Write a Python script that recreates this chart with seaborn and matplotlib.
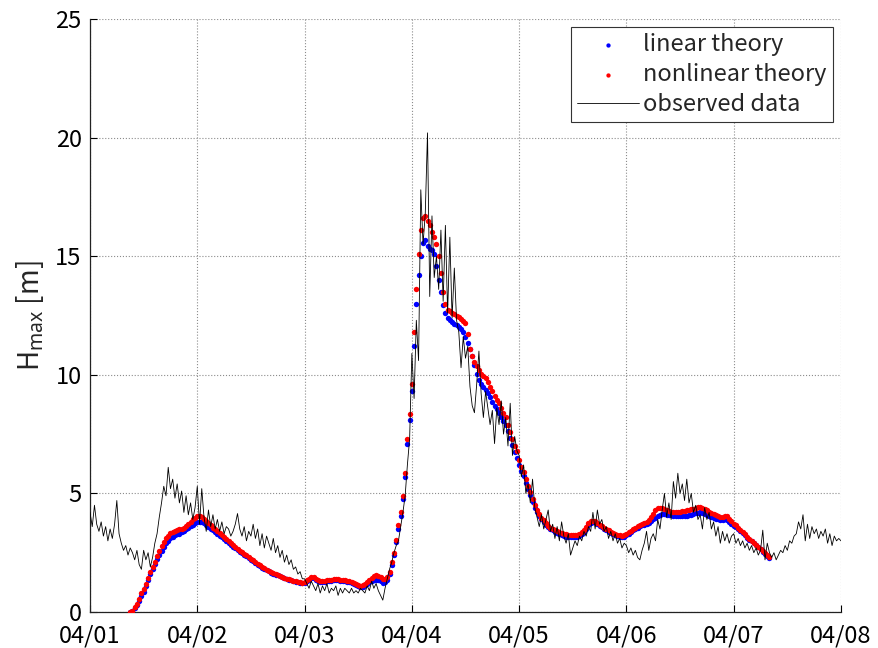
import numpy as np
import matplotlib
matplotlib.use("Agg")
import matplotlib.pyplot as plt
import seaborn as sns

# ---------------- data ----------------
day_labels = ["04/01", "04/02", "04/03", "04/04", "04/05", "04/06", "04/07", "04/08"]

# observed Hmax [m], every 30 min from 04/01 00:00
obs_d0 = [4.2,3.6,4.5,3.7,3.4,3.8,3.2,3.6,3.0,3.5, 3.1,3.7,4.7,3.3,2.9,2.6,2.8,2.4,2.7,2.5,
          2.2,2.6,2.0,1.8,2.6,2.2,2.5,1.9,2.3,2.9, 3.3,4.0,4.6,5.3,4.9,6.1,5.2,5.6,4.8,5.4,
          4.6,5.1,4.2,4.9,4.1,4.6,3.9,4.4]
obs_d1 = [5.3,3.7,5.2,4.0,3.4,4.3,3.6,4.1,3.5,3.9, 3.4,3.8,3.3,3.6,3.5,3.2,3.4,3.7,4.15,3.5,
          3.2,3.6,3.0,3.4,3.2,3.7,3.1,3.5,2.8,3.3, 2.7,3.2,2.9,2.6,3.1,2.5,2.8,2.3,2.6,2.1,
          2.4,2.0,2.2,1.8,1.9,1.6,1.7,1.4]
obs_d2 = [1.4,1.2,1.0,1.3,1.1,0.9,1.2,0.8,1.1,0.9, 1.2,0.8,1.0,0.9,1.1,0.7,1.0,0.8,1.0,0.9,
          0.8,1.0,0.8,0.9,0.8,1.0,0.9,0.8,1.1,0.9, 1.3,1.0,1.2,0.9,0.7,0.5,1.0,1.4,1.8,2.1,
          2.5,2.8,3.0,3.6,4.2,4.9,6.2,7.3]
obs_d3 = [10.9,9.0,12.3,10.6,17.8,15.5,16.8,20.2,13.3,16.7, 14.1,15.0,13.6,16.1,13.1,16.3,12.6,15.8,12.4,14.5,
          12.3,11.8,10.3,11.6,10.7,11.2,9.5,8.7,8.4,9.6, 11.0,9.2,8.2,9.3,8.6,7.9,8.5,7.1,8.6,7.9,
          8.9,7.5,8.2,7.0,8.8,6.6,7.4,6.8]
obs_d4 = [6.6,5.7,6.2,5.0,5.4,4.6,5.6,4.4,4.0,3.6, 4.1,3.5,3.9,4.3,3.4,3.7,3.1,3.6,3.0,3.8,
          3.2,2.9,3.3,2.4,2.7,3.0,2.8,3.2,3.0,3.4, 3.2,3.6,3.4,4.2,3.5,4.3,3.7,3.9,3.4,3.6,
          3.1,3.4,3.0,3.3,2.9,3.1,2.7,2.9]
obs_d5 = [2.8,2.5,2.7,2.4,2.6,2.3,2.2,2.6,2.9,3.4, 2.6,3.1,3.3,3.0,3.9,3.5,4.3,5.0,4.0,4.6,
          3.9,5.5,4.8,5.85,5.0,5.4,4.7,5.6,4.6,5.0, 4.2,4.5,3.9,4.1,3.5,4.4,3.9,4.2,3.5,3.8,
          3.2,3.6,2.9,3.4,3.0,3.3,2.9,3.2]
obs_d6 = [3.3,2.9,3.1,2.8,3.0,2.7,2.9,2.6,2.8,2.5, 2.7,2.4,2.6,3.45,2.2,2.9,2.5,2.3,2.5,2.2,
          2.4,2.6,2.5,2.8,2.6,3.0,2.9,3.2,3.3,3.8, 3.5,4.1,3.0,3.7,3.1,3.6,3.3,3.5,3.1,3.4,
          3.2,3.5,2.9,3.3,2.8,3.2,3.0,3.1, 3.0]

# linear theory, every 30 min from 04/01 09:00
lin_d0 = [0.0,0.04,0.18,0.28,0.45,0.68,0.85,1.08,1.35,1.6, 1.8,2.04,2.22,2.4,2.58,2.75,2.9,3.0,3.1,3.18,
          3.23,3.27,3.3,3.36,3.42,3.5,3.56,3.62,3.68,3.74, 3.8]
lin_d1 = [3.8,3.78,3.74,3.68,3.6,3.52,3.44,3.36,3.29,3.22, 3.15,3.06,2.98,2.9,2.83,2.75,2.68,2.6,2.53,2.47,
          2.4,2.34,2.27,2.2,2.13,2.06,2.0,1.94,1.87,1.81, 1.76,1.71,1.66,1.62,1.58,1.54,1.5,1.46,1.42,1.39,
          1.36,1.33,1.3,1.27,1.25,1.23,1.22,1.23]
lin_d2 = [1.3,1.37,1.42,1.42,1.36,1.29,1.26,1.26,1.27,1.29, 1.31,1.32,1.34,1.34,1.33,1.32,1.31,1.29,1.27,1.25,
          1.22,1.18,1.14,1.1,1.06,1.07,1.13,1.19,1.25,1.3, 1.35,1.37,1.34,1.3,1.24,1.28,1.36,1.6,2.0,2.4,
          2.95,3.5,4.05,4.75,5.7,7.1,8.1,9.3]
lin_d3 = [11.2,13.0,14.2,15.0,15.55,15.7,15.45,15.3,15.25,15.1, 14.6,14.0,13.5,12.95,12.6,12.4,12.3,12.22,12.15,12.1,
          12.03,11.95,11.8,11.6,11.35,11.1,10.8,10.4,10.05,9.8, 9.62,9.5,9.38,9.25,9.05,8.85,8.7,8.55,8.4,8.2,
          8.05,7.9,7.65,7.35,7.05,6.75,6.5,6.2]
lin_d4 = [5.95,5.75,5.45,5.2,4.95,4.65,4.4,4.2,4.05,3.92, 3.8,3.68,3.58,3.5,3.44,3.39,3.34,3.29,3.25,3.21,
          3.18,3.16,3.15,3.15,3.15,3.17,3.2,3.27,3.38,3.5, 3.65,3.75,3.79,3.78,3.72,3.64,3.57,3.51,3.45,3.39,
          3.34,3.29,3.25,3.21,3.18,3.16,3.18,3.24]
lin_d5 = [3.3,3.38,3.45,3.5,3.56,3.61,3.65,3.68,3.71,3.76, 3.83,3.9,3.98,4.05,4.1,4.14,4.13,4.1,4.08,4.07,
          4.05,4.05,4.05,4.05,4.05,4.05,4.06,4.08,4.1,4.13, 4.16,4.19,4.2,4.18,4.14,4.08,4.03,4.0,3.96,3.93,
          3.9,3.88,3.89,3.9,3.88,3.8,3.7,3.63]
lin_d6 = [3.57,3.5,3.42,3.33,3.24,3.14,3.05,2.99,2.91,2.81, 2.72,2.64,2.55,2.46,2.37,2.28]

# nonlinear theory, same times
non_d0 = [0.0,0.05,0.22,0.35,0.55,0.78,0.95,1.18,1.45,1.7, 1.9,2.12,2.35,2.58,2.78,2.95,3.1,3.22,3.32,3.38,
          3.42,3.45,3.48,3.5,3.56,3.62,3.7,3.8,3.9,3.98, 4.05]
non_d1 = [4.05,4.0,3.93,3.85,3.75,3.66,3.56,3.48,3.4,3.32, 3.25,3.15,3.06,2.98,2.9,2.82,2.74,2.66,2.58,2.52,
          2.45,2.39,2.32,2.25,2.18,2.11,2.04,1.98,1.91,1.85, 1.79,1.74,1.69,1.65,1.61,1.57,1.53,1.49,1.45,1.41,
          1.38,1.35,1.32,1.3,1.27,1.25,1.24,1.26]
non_d2 = [1.33,1.41,1.46,1.46,1.4,1.33,1.3,1.3,1.31,1.33, 1.35,1.37,1.39,1.39,1.38,1.37,1.36,1.34,1.32,1.3,
          1.27,1.23,1.19,1.15,1.11,1.13,1.2,1.27,1.34,1.42, 1.51,1.56,1.52,1.46,1.38,1.4,1.46,1.7,2.1,2.5,
          3.05,3.65,4.2,4.9,5.85,7.3,8.35,9.6]
non_d3 = [11.8,13.6,15.1,16.1,16.6,16.7,16.5,16.3,16.0,15.8, 15.5,15.0,14.3,13.5,13.0,12.75,12.7,12.6,12.55,12.5,
          12.45,12.35,12.28,12.2,11.7,11.1,10.8,10.55,10.35,10.2, 10.05,9.95,9.85,9.7,9.5,9.3,9.1,8.95,8.8,8.6,
          8.4,8.2,7.9,7.6,7.3,7.0,6.8,6.4]
non_d4 = [6.1,5.9,5.6,5.3,5.05,4.75,4.5,4.3,4.12,3.98, 3.86,3.74,3.63,3.55,3.49,3.45,3.41,3.37,3.33,3.29,
          3.27,3.26,3.25,3.25,3.25,3.26,3.29,3.36,3.47,3.6, 3.74,3.82,3.84,3.82,3.76,3.68,3.61,3.56,3.5,3.44,
          3.39,3.34,3.3,3.26,3.23,3.21,3.23,3.29]
non_d5 = [3.36,3.43,3.5,3.56,3.61,3.66,3.7,3.74,3.79,3.88, 4.02,4.15,4.3,4.37,4.39,4.38,4.33,4.28,4.25,4.23,
          4.21,4.2,4.21,4.22,4.24,4.26,4.28,4.3,4.33,4.36, 4.39,4.41,4.42,4.4,4.35,4.28,4.22,4.17,4.12,4.08,
          4.04,4.01,4.02,4.04,4.03,3.93,3.82,3.72]
non_d6 = [3.65,3.55,3.46,3.36,3.27,3.17,3.08,3.01,2.93,2.83, 2.74,2.66,2.57,2.48,2.39,2.3]

obs = np.array(obs_d0 + obs_d1 + obs_d2 + obs_d3 + obs_d4 + obs_d5 + obs_d6)
lin = np.array(lin_d0 + lin_d1 + lin_d2 + lin_d3 + lin_d4 + lin_d5 + lin_d6)
non = np.array(non_d0 + non_d1 + non_d2 + non_d3 + non_d4 + non_d5 + non_d6)
t_obs = np.arange(len(obs)) * 0.5 / 24.0          # days since 04/01 00:00
t_mod = (9.0 + 0.5 * np.arange(len(lin))) / 24.0  # days since 04/01 00:00

# ---------------- style ----------------
sns.set_style("ticks")
plt.rcParams["font.family"] = ["Noto Sans CJK JP", "DejaVu Sans"]
plt.rcParams["mathtext.fontset"] = "custom"
plt.rcParams["mathtext.rm"] = "Noto Sans"
plt.rcParams["axes.edgecolor"] = "#222222"

fig = plt.figure(figsize=(8.79, 6.48), dpi=100)
ax = fig.add_axes([90 / 879, 1 - 612 / 648, (841 - 90) / 879, (612 - 19) / 648])

sns.scatterplot(x=t_mod, y=lin, color="#0000ff", s=15, linewidth=0, ax=ax,
                label="linear theory", zorder=2)
sns.scatterplot(x=t_mod, y=non, color="#ff0000", s=15, linewidth=0, ax=ax,
                label="nonlinear theory", zorder=3)
sns.lineplot(x=t_obs, y=obs, color="black", linewidth=0.6, ax=ax,
             label="observed data", zorder=4, estimator=None, sort=False)

ax.set_xlim(0, 7)
ax.set_ylim(0, 25)
ax.set_xticks(range(len(day_labels)))
ax.set_xticklabels(day_labels)
ax.set_yticks([0, 5, 10, 15, 20, 25])
ax.set_axisbelow(True)
ax.grid(True, linestyle=":", color="#8c8c8c", linewidth=0.8)
ax.tick_params(direction="in", length=5, width=0.8, labelsize=17, colors="black")
ax.tick_params(axis="x", pad=9)
ax.tick_params(axis="y", pad=6)
sns.despine(ax=ax)
for sp in ("left", "bottom"):
    ax.spines[sp].set_linewidth(0.9)
ax.set_xlabel("")
ax.set_ylabel(r"H$_{\mathrm{max}}$ [m]", fontsize=20, labelpad=7)

leg = ax.legend(loc="upper right", fontsize=17, frameon=True, fancybox=False,
                edgecolor="#333333", framealpha=1, handlelength=2.6,
                handletextpad=0.2, borderpad=0.25, labelspacing=0.3,
                borderaxespad=0.35, markerscale=0.8)
leg.get_frame().set_linewidth(0.8)

fig.savefig("out.png", dpi=100)
